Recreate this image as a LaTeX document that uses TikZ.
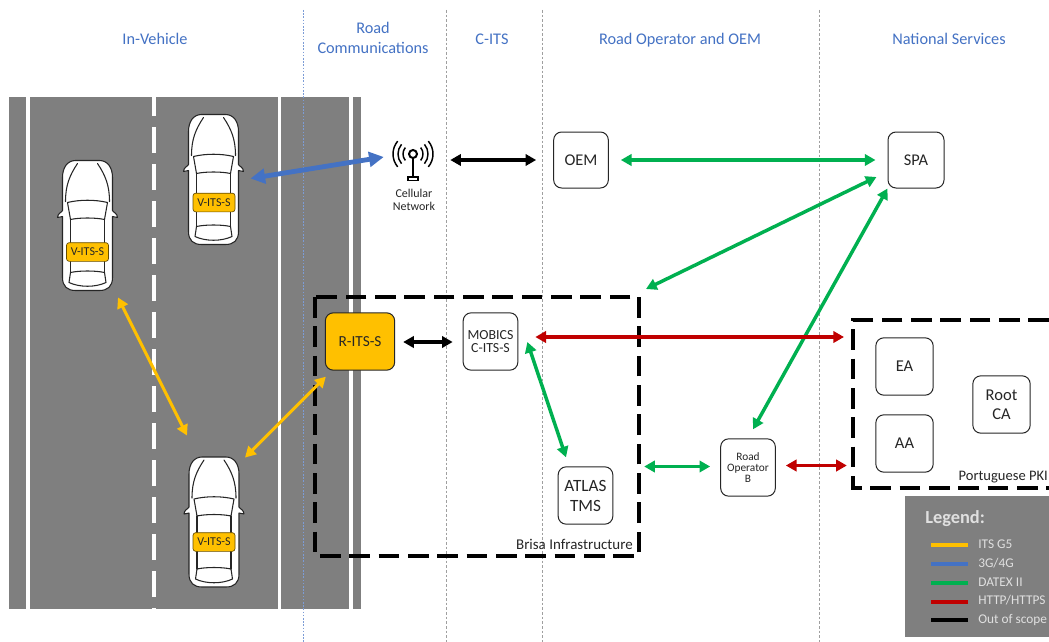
\documentclass[tikz,border=0pt]{standalone}
\usepackage{fontspec}
\setmainfont{Carlito}
\usetikzlibrary{arrows.meta}
\definecolor{roadgrey}{HTML}{7F7F7F}
\definecolor{itsyellow}{HTML}{FFC000}
\definecolor{headblue}{HTML}{4472C4}
\definecolor{dgreen}{HTML}{00B050}
\definecolor{hred}{HTML}{C00000}
\definecolor{txt}{HTML}{262626}
\newcommand{\fs}[1]{\fontsize{#1}{#1}\selectfont}
\tikzset{
  x=0.75pt,y=-0.75pt,
  heading/.style={text=headblue,font=\fs{12.2},align=center,anchor=center,inner sep=0pt,text height=8pt,text depth=2.5pt},
  headingtwo/.style={text=headblue,font=\fs{12.2},align=center,anchor=center,inner sep=0pt},
  sep/.style={draw=gray!75,line width=0.4pt,dash pattern=on 2pt off 1.5pt},
  sepblue/.style={draw=headblue!70,line width=0.4pt,dash pattern=on 1.2pt off 1.2pt},
  rbox/.style={draw=txt,line width=0.75pt,fill=white,rounded corners=6pt,text=txt,align=center,font=\fs{12.3},inner sep=0pt,text depth=0pt},
  tagbox/.style={draw=black!60!itsyellow,line width=0.5pt,fill=itsyellow,rounded corners=2pt,text=txt,font=\fs{9},minimum width=31.5pt,minimum height=14pt,inner sep=0pt},
  carspot/.style={minimum width=40pt,minimum height=97pt,inner sep=0pt},
  arrowbase/.style={line width=2.6pt,{Triangle[length=8pt,width=8.5pt]}-{Triangle[length=8pt,width=8.5pt]}},
  blink/.style={arrowbase,draw=headblue,line width=3.6pt,{Triangle[length=11pt,width=11pt]}-{Triangle[length=11pt,width=11pt]},fill=headblue},
  glink/.style={arrowbase,draw=dgreen,fill=dgreen},
  rlink/.style={arrowbase,draw=hred,fill=hred},
  klink/.style={arrowbase,draw=black,fill=black},
  ylink/.style={arrowbase,draw=itsyellow,fill=itsyellow,line width=2.3pt},
  zone/.style={draw=black,line width=2.4pt,dash pattern=on 15.5pt off 6.5pt},
  zonelabel/.style={text=txt,font=\fs{11.2},inner sep=0pt,text height=8pt,text depth=2.5pt},
  legtext/.style={text=white!88!black,font=\fs{10},anchor=west,inner sep=0pt,text height=7pt,text depth=2pt},
  legline/.style={line width=3pt},
  carline/.style={draw=black!85,line width=0.8pt,line cap=round,line join=round},
  thecar/.pic={
    \draw[carline,fill=white] (-12,-65) -- (12,-65) .. controls (20,-65) and (25,-58) .. (25,-48) -- (25,-15) .. controls (26,-13) and (30,-12) .. (30,-8) -- (25,-9) -- (25,52) .. controls (25,61) and (20,65) .. (12,65) -- (-12,65) .. controls (-20,65) and (-25,61) .. (-25,52) -- (-25,-9) -- (-30,-8) .. controls (-30,-12) and (-26,-13) .. (-25,-15) -- (-25,-48) .. controls (-25,-58) and (-20,-65) .. (-12,-65) -- cycle;
    \draw[carline] (10,-62) .. controls (18,-50) and (22,-40) .. (22,-24);
    \draw[carline] (-10,-62) .. controls (-18,-50) and (-22,-40) .. (-22,-24);
    \draw[carline] (-20,-23) .. controls (-8,-26) and (8,-26) .. (20,-23) -- (17,-6) .. controls (8,-8) and (-8,-8) .. (-17,-6) -- cycle;
    \draw[carline] (-17,-6) -- (-17,47) (17,-6) -- (17,47);
    \draw[carline] (-17,47) .. controls (-8,45) and (8,45) .. (17,47) -- (18.5,57) .. controls (8,62) and (-8,62) .. (-18.5,57) -- cycle;
  }
}
\begin{document}
\begin{tikzpicture}
\useasboundingbox (0,0) rectangle (1049,642);
\fill[white] (0,0) rectangle (1049,642);

% road
\fill[roadgrey] (9,97) rectangle (361,609);
\fill[white] (26,97) rectangle (29.5,609);
\fill[white] (277.5,97) rectangle (281,609);
\fill[white] (349,97) rectangle (352.5,609);
\draw[white,line width=2.3pt,dash pattern=on 19.5pt off 8.25pt,dash phase=5.25pt] (154,97) -- (154,609);

% separators
\draw[sepblue] (303.5,10) -- (303.5,642);
\draw[sep] (446,10) -- (446,642);
\draw[sep] (542,10) -- (542,642);
\draw[sep] (819,10) -- (819,642);

% headings
\node[heading] (h1) at (155,41) {In-Vehicle};
\node[headingtwo] (h2) at (373,38) {Road\\[3pt]Communications};
\node[heading] (h3) at (492,41) {C-ITS};
\node[heading] (h4) at (680,41) {Road Operator and OEM};
\node[heading] (h5) at (949,41) {National Services};

% cars
\pic at (213.5,179.5) {thecar};
\pic at (87.5,225.5) {thecar};
\pic at (214,522) {thecar};
\node[carspot] (car1) at (213.5,179.5) {};
\node[carspot] (car2) at (87.5,225.5) {};
\node[carspot] (car3) at (214,522) {};
\node[tagbox] (tag1) at (214,202.5) {V-ITS-S};
\node[tagbox] (tag2) at (87.5,252) {V-ITS-S};
\node[tagbox] (tag3) at (214,542) {V-ITS-S};

% zones
\draw[zone] (315,297) rectangle (639,556);
\draw[zone] (1049,320) -- (853,320) -- (853,488) -- (1049,488);
\coordinate (brisacorner) at (639,297);
\coordinate (pkicorner) at (853,320);
\node[zonelabel,anchor=east] (brisa) at (633,546) {Brisa Infrastructure};
\node[zonelabel,anchor=east,font=\fs{10.9}] (pki) at (1048,477) {Portuguese PKI};

% boxes
\node[rbox,minimum width=41pt,minimum height=42pt] (oem) at (581,160) {OEM};
\node[rbox,minimum width=42pt,minimum height=42pt] (spa) at (916,160) {SPA};
\node[rbox,fill=itsyellow,minimum width=52pt,minimum height=43pt,font=\fs{11.5}] (rits) at (360,341.5) {R-ITS-S};
\node[rbox,minimum width=41pt,minimum height=43pt,font=\fs{10.4}] (mobics) at (490.5,341.5) {MOBICS\\C-ITS-S};
\node[rbox,minimum width=41pt,minimum height=43pt,font=\fs{12.9}] (atlas) at (585.5,495.5) {ATLAS\\[2pt]TMS};
\node[rbox,minimum width=41pt,minimum height=43pt,font=\fs{8.5}] (rob) at (748,467.5) {Road\\Operator\\B};
\node[rbox,minimum width=43pt,minimum height=43pt,font=\fs{12.4}] (ea) at (904.5,366.5) {EA};
\node[rbox,minimum width=43pt,minimum height=43pt,font=\fs{12.4}] (aa) at (904.5,443.5) {AA};
\node[rbox,minimum width=43pt,minimum height=43pt,font=\fs{12.4}] (root) at (1001.5,404.5) {Root\\[2pt]CA};

% cellular tower
\node[minimum width=31.5pt,minimum height=31.5pt,inner sep=0pt] (cell) at (413,160) {};
\draw[black,line width=1.5pt] (413,154) circle (3pt);
\draw[black,line width=2pt] (413,158) -- (413,178);
\draw[black,line width=0.9pt,fill=white] (408,177) rectangle (418,180.5);
\foreach \r in {10,15,20}{
  \draw[black,line width=1.1pt] (413,154) ++(-40:\r*0.75pt) arc[start angle=-40,end angle=40,radius=\r*0.75pt];
  \draw[black,line width=1.1pt] (413,154) ++(140:\r*0.75pt) arc[start angle=140,end angle=220,radius=\r*0.75pt];
}
\node[text=txt,font=\fs{9},align=center,inner sep=0pt] (celltext) at (414,200) {Cellular\\[1pt]Network};

% connectors
\draw[blink] ([shift={(10,-1)}]car1.east) -- ([shift={(-8,-3)}]cell.west);
\draw[klink] ([shift={(16,0)}]cell.east) -- ([shift={(-17,0)}]oem.west);
\draw[glink] ([shift={(12,0)}]oem.east) -- ([shift={(-12,0)}]spa.west);
\draw[glink] ([shift={(-11,17)}]spa.west) -- ([shift={(7,-8)}]brisacorner);
\draw[glink] (spa.south west) -- ([shift={(5,-9)}]rob.north);
\draw[rlink] ([shift={(17,-4.5)}]mobics.east) -- ([shift={(-9,17)}]pkicorner);
\draw[klink] ([shift={(8,0.5)}]rits.east) -- ([shift={(-10,0.5)}]mobics.west);
\draw[glink] ([shift={(9,0.5)}]mobics.east) -- ([shift={(-19.5,-9)}]atlas.north);
\draw[glink] ([shift={(-76,-1)}]rob.west) -- ([shift={(-10,-1)}]rob.west);
\draw[rlink] ([shift={(10,-2)}]rob.east) -- ([shift={(71,-2)}]rob.east);
\draw[ylink] ([shift={(30.5,7)}]car2.south) -- ([shift={(-27,-21.5)}]car3.north);
\draw[ylink] ([shift={(31,0.5)}]car3.north) -- ([shift={(1,6)}]rits.south west);

% legend
\fill[roadgrey] (905,496) rectangle (1049,637);
\node[legtext,font=\fs{13.8}\bfseries] (legt) at (925,520) {Legend:};
\draw[legline,itsyellow] (931,545) -- (968,545);
\draw[legline,headblue] (931,564) -- (968,564);
\draw[legline,dgreen] (931,583) -- (968,583);
\draw[legline,hred] (931,601.5) -- (968,601.5);
\draw[legline,black] (931,620) -- (968,620);
\node[legtext] (l1) at (978,545) {ITS G5};
\node[legtext] (l2) at (978,564) {3G/4G};
\node[legtext] (l3) at (978,583) {DATEX II};
\node[legtext] (l4) at (978,601.5) {HTTP/HTTPS};
\node[legtext] (l5) at (978,620) {Out of scope};
\end{tikzpicture}
\end{document}
